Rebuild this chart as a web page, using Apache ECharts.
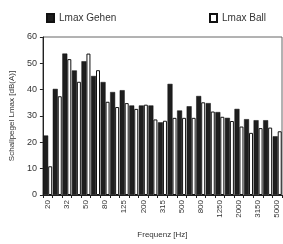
<!DOCTYPE html>
<html>
<head>
<meta charset="utf-8">
<script src="https://cdn.jsdelivr.net/npm/echarts@6/dist/echarts.min.js"></script>
<style>
html, body { margin: 0; padding: 0; background: #fff; }
#main { width: 283px; height: 244px; }
</style>
</head>
<body>
<div id="main"></div>
<script>
var frequenzen = ['20', '25', '32', '40', '50', '63', '80', '100', '125', '160', '200', '250', '315',
	'400', '500', '630', '800', '1000', '1250', '1600', '2000', '2500', '3150', '4000', '5000'];
var lmaxGehen = [22.6, 40.3, 53.7, 47.3, 50.8, 45.2, 42.9, 39.1, 39.8, 34, 34, 34, 27.6,
	42.2, 32.1, 33.7, 37.6, 34.9, 31.5, 29.3, 32.7, 28.8, 28.4, 28.4, 22.3];
var lmaxBall = [10.9, 37.5, 51.6, 43, 53.7, 47.4, 35.4, 33.4, 34.9, 32.7, 34.3, 28.7, 28.2,
	29.3, 29.3, 29.3, 35.2, 31.7, 29.7, 28.1, 26, 23.6, 25.4, 25.6, 24.2];
var yTicks = [0, 10, 20, 30, 40, 50, 60];

var myChart = echarts.init(document.getElementById('main'));
var schrift = 'Liberation Sans Narrow, Liberation Sans, Arial, sans-serif';
var option = {
	backgroundColor: '#fff',
	animation: false,
	textStyle: { fontFamily: schrift },
	legend: [{
		left: 41, top: 8,
		itemWidth: 7, itemHeight: 8, itemGap: 4,
		textStyle: { fontSize: 10, color: '#333', fontFamily: schrift },
		data: [{ name: 'Lmax Gehen', icon: 'rect' }]
	}, {
		left: 204, top: 8,
		itemWidth: 7, itemHeight: 8,
		textStyle: { fontSize: 10, color: '#333', fontFamily: schrift },
		data: [{ name: 'Lmax Ball', icon: 'rect' }]
	}],
	grid: {
		left: 32, right: 1, top: 37, bottom: 43,
		show: true, borderColor: '#666', borderWidth: 1
	},
	xAxis: {
		type: 'category',
		data: frequenzen,
		name: 'Frequenz [Hz]',
		nameLocation: 'middle',
		nameGap: 36,
		nameTextStyle: { fontSize: 8, color: '#333' },
		axisLine: { lineStyle: { color: '#222', width: 1 } },
		axisTick: { show: true, interval: 0, length: 3, lineStyle: { color: '#222' } },
		axisLabel: { interval: 1, rotate: 90, fontSize: 8, color: '#333', margin: 5 }
	},
	yAxis: {
		type: 'value',
		min: yTicks[0], max: yTicks[yTicks.length - 1], interval: 10,
		name: 'Schallpegel Lmax [dB(A)]',
		nameLocation: 'middle',
		nameGap: 26,
		nameTextStyle: { fontSize: 8, color: '#333' },
		axisLine: { show: true, lineStyle: { color: '#222', width: 1 } },
		axisTick: { show: true, length: 3, lineStyle: { color: '#222' } },
		axisLabel: { fontSize: 9, color: '#333', margin: 6 },
		splitLine: { show: false }
	},
	series: [{
		name: 'Lmax Gehen',
		type: 'bar',
		data: lmaxGehen,
		barWidth: 5,
		barGap: '0%',
		itemStyle: { color: '#1e1e1e', borderColor: '#111', borderWidth: 0.5 }
	}, {
		name: 'Lmax Ball',
		type: 'bar',
		data: lmaxBall,
		barWidth: 4,
		itemStyle: { color: '#fff', borderColor: '#111', borderWidth: 1 }
	}]
};
myChart.setOption(option);
</script>
</body>
</html>
